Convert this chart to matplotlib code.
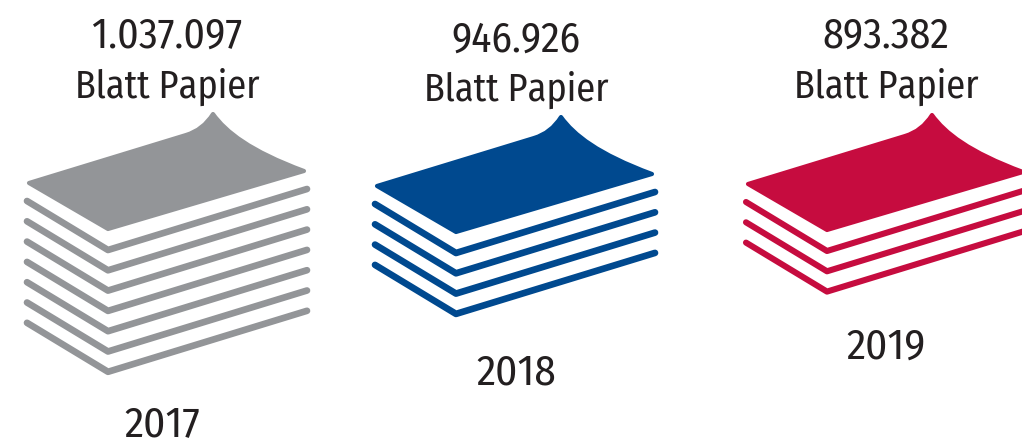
import matplotlib
matplotlib.use("Agg")
import matplotlib.pyplot as plt
from matplotlib.path import Path
from matplotlib.patches import PathPatch

years = ["2017", "2018", "2019"]
sheet_counts = ["1.037.097", "946.926", "893.382"]
stack_lines = [7, 4, 3]
colors = ["#939598", "#00498f", "#c60c3f"]

# stack offsets and text anchors, in pixels
offset_x = [0, 348, 719]
offset_y = [0, 3, 1]
text_x = [167, 516, 886]
year_x = [162, 516, 886]
count_base = [48, 52, 48]
unit_base = [98, 101, 98]
year_base = [436, 385, 359]
line_width = [4.8, 4.8, 4.4]

LINE_GAP = 20.3
TEXT_COLOR = "#231f20"
FONT = ["Fira Sans Condensed", "PT Sans Narrow", "DejaVu Sans"]
COUNT_SIZE = 30
UNIT_SIZE = 27.5
YEAR_SIZE = 31

# top sheet with its curled corner
sheet_verts = [(29, 184), (186, 136), (203, 131), (213, 115), (226, 133),
               (250, 152), (304, 172), (108, 230), (29, 184)]
sheet_codes = [Path.MOVETO, Path.LINETO, Path.CURVE3, Path.CURVE3, Path.CURVE4,
               Path.CURVE4, Path.CURVE4, Path.LINETO, Path.CLOSEPOLY]
line_x = [27, 108, 307]
line_y = [202, 251, 190]

fig = plt.figure(figsize=(10.22, 4.39), dpi=100)
ax = fig.add_axes([0, 0, 1, 1])
ax.set_xlim(0, 1022)
ax.set_ylim(439, 0)
ax.axis("off")

for i in range(len(years)):
    dx = offset_x[i]
    dy = offset_y[i]
    verts = [(x + dx, y + dy) for x, y in sheet_verts]
    # thick round edge gives the sheet its soft corners
    ax.add_patch(PathPatch(Path(verts, sheet_codes), facecolor=colors[i], edgecolor=colors[i],
                           lw=3, joinstyle="round"))
    for n in range(stack_lines[i]):
        xs = [x + dx for x in line_x]
        ys = [y + dy + n * LINE_GAP for y in line_y]
        ax.plot(xs, ys, color=colors[i], lw=line_width[i], solid_capstyle="round", solid_joinstyle="round")

    ax.text(text_x[i], count_base[i], sheet_counts[i], ha="center", va="baseline", fontsize=COUNT_SIZE,
            color=TEXT_COLOR, family=FONT)
    ax.text(text_x[i], unit_base[i], "Blatt Papier", ha="center", va="baseline", fontsize=UNIT_SIZE,
            color=TEXT_COLOR, family=FONT)
    ax.text(year_x[i], year_base[i], years[i], ha="center", va="baseline", fontsize=YEAR_SIZE,
            color=TEXT_COLOR, family=FONT)

fig.savefig("out.png", dpi=100, facecolor="white")
